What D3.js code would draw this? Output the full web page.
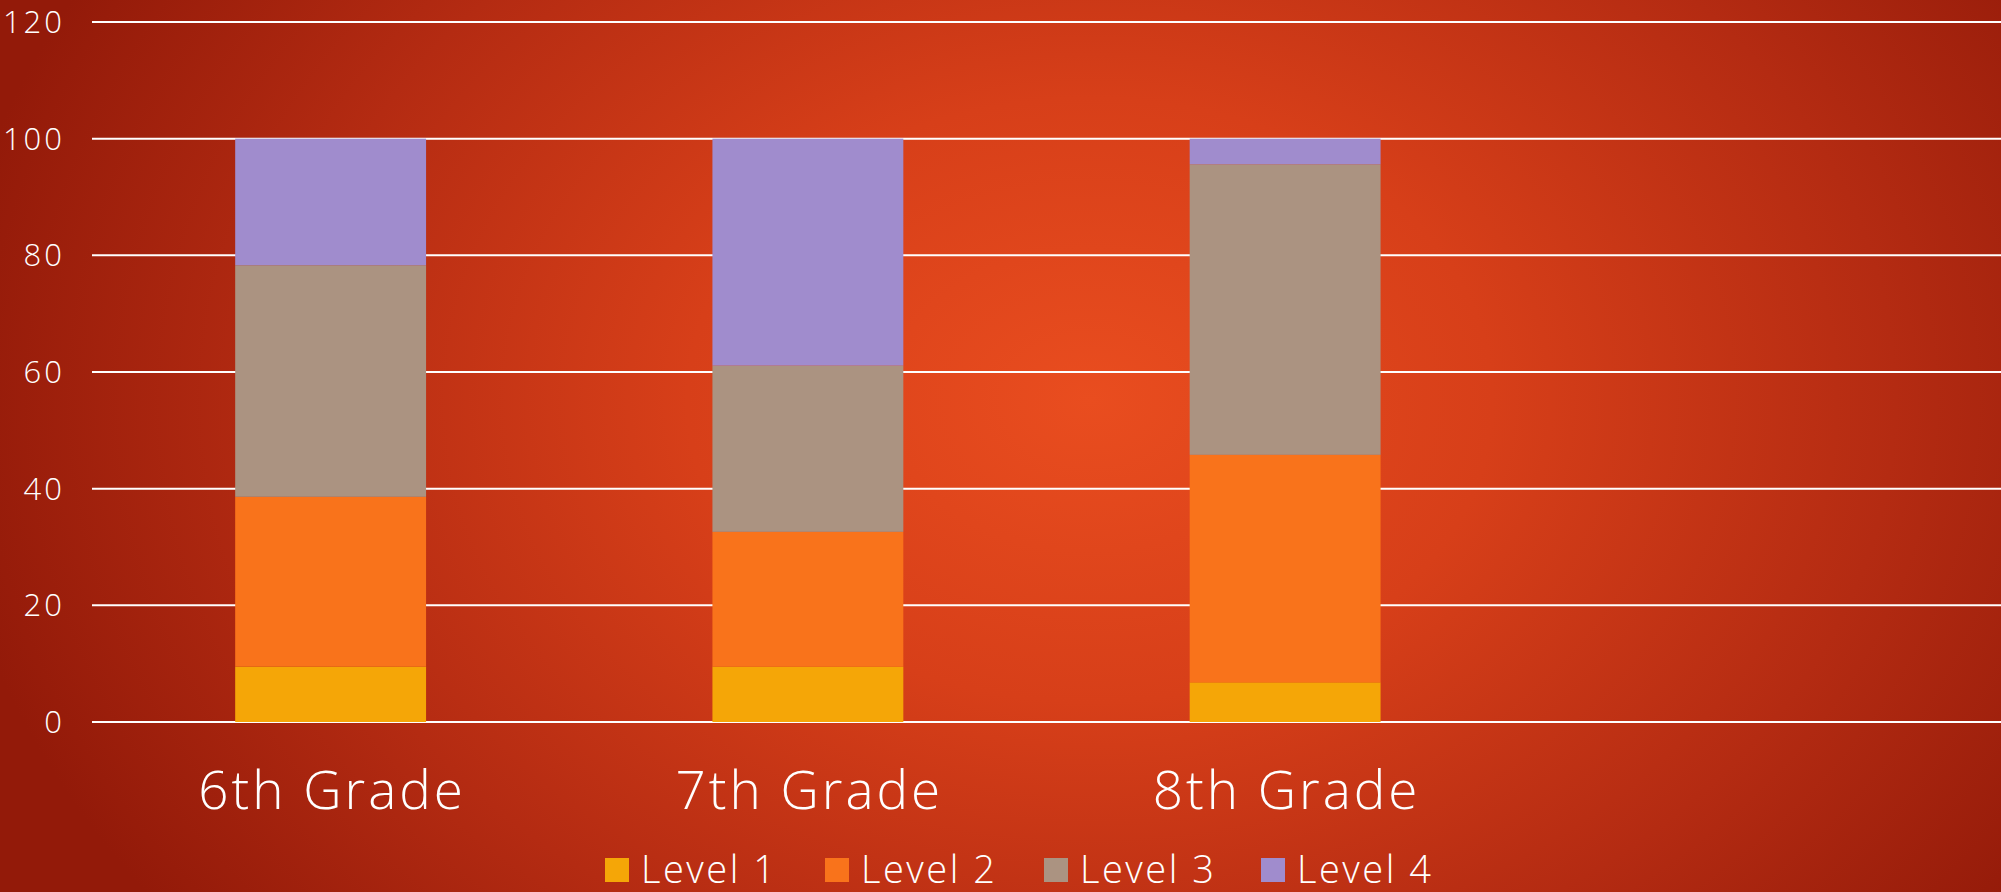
<!DOCTYPE html>
<html>
<head>
<meta charset="utf-8">
<script src="https://cdn.jsdelivr.net/npm/d3@7"></script>
<style>
  html, body { margin: 0; padding: 0; overflow: hidden; }
  svg { display: block; }
</style>
</head>
<body>
<svg id="chart" width="2001" height="892"></svg>
<script>
// data
const grades = ['6th Grade', '7th Grade', '8th Grade', ''];
const levels = ['Level 1', 'Level 2', 'Level 3', 'Level 4'];
const level1 = [9.5, 9.5, 6.8, 0];
const level2 = [29.1, 23.1, 39.0, 0];
const level3 = [39.7, 28.5, 49.8, 0];
const level4 = [21.7, 38.9, 4.4, 0];
const yTicks = [0, 20, 40, 60, 80, 100, 120];
const levelColors = ['#F5A607', '#F9731B', '#AB9381', '#A08CCD'];

const width = 2001, height = 892;
const svg = d3.select('#chart');
const font = '"Open Sans", "DejaVu Sans", sans-serif';

// background
let defs = svg.append('defs');
let grad = defs.append('radialGradient')
    .attr('id', 'bg').attr('gradientUnits', 'userSpaceOnUse')
    .attr('cx', 1090).attr('cy', 400).attr('r', 1150)
    .attr('gradientTransform', 'translate(1090,400) scale(1,0.75) translate(-1090,-400)');
grad.append('stop').attr('offset', 0).attr('stop-color', '#E94D1F');
grad.append('stop').attr('offset', 0.35).attr('stop-color', '#D73F19');
grad.append('stop').attr('offset', 0.7).attr('stop-color', '#B42B12');
grad.append('stop').attr('offset', 1).attr('stop-color', '#931A09');
svg.append('rect').attr('width', width).attr('height', height).attr('fill', 'url(#bg)');

let rows = grades.map(function(g, i){
    return {grade: g, 'Level 1': level1[i], 'Level 2': level2[i], 'Level 3': level3[i], 'Level 4': level4[i]};
});

let x = d3.scaleBand().domain(grades).range([92, 2001]).paddingInner(0.6).paddingOuter(0.3);
let y = d3.scaleLinear().domain([0, 120]).range([722, 22]);

// gridlines
svg.append('g').selectAll('line')
    .data(yTicks)
    .enter().append('line')
    .attr('x1', 92).attr('x2', width)
    .attr('y1', function(d){return y(d)}).attr('y2', function(d){return y(d)})
    .style('stroke', '#FFFFFF').style('stroke-width', 2);

// y labels
svg.append('g').selectAll('text')
    .data(yTicks)
    .enter().append('text')
    .attr('x', 65).attr('y', function(d){return y(d)})
    .attr('dy', '0.36em')
    .attr('text-anchor', 'end')
    .style('font-family', font).style('font-size', '31px').style('font-weight', 300)
    .style('letter-spacing', '3px')
    .style('fill', '#FFFFFF')
    .text(function(d){return d});

// stacked bars
let stack = d3.stack().keys(levels);
let series = stack(rows);
svg.append('g').selectAll('g')
    .data(series)
    .enter().append('g')
    .style('fill', function(d, i){return levelColors[i]})
    .selectAll('rect')
    .data(function(d){return d})
    .enter().append('rect')
    .attr('x', function(d){return x(d.data.grade)})
    .attr('width', x.bandwidth())
    .attr('y', function(d){return y(d[1])})
    .attr('height', function(d){return y(d[0]) - y(d[1])});

// category labels
svg.append('g').selectAll('text')
    .data(grades)
    .enter().append('text')
    .attr('x', function(d){return x(d) + x.bandwidth() / 2 + 1.5})
    .attr('y', 809)
    .attr('text-anchor', 'middle')
    .style('font-family', font).style('font-size', '53px').style('font-weight', 300)
    .style('letter-spacing', '3px')
    .style('fill', '#FFFFFF')
    .text(function(d){return d});

// legend
let legendX = [605, 825, 1044, 1261];
let legend = svg.append('g').selectAll('g')
    .data(levels)
    .enter().append('g')
    .attr('transform', function(d, i){return 'translate(' + legendX[i] + ',0)'});
legend.append('rect')
    .attr('x', 0).attr('y', 858).attr('width', 24).attr('height', 24)
    .style('fill', function(d, i){return levelColors[i]});
legend.append('text')
    .attr('x', 36).attr('y', 883)
    .style('font-family', font).style('font-size', '38px').style('font-weight', 300)
    .style('letter-spacing', '2.5px')
    .style('fill', '#FFFFFF')
    .text(function(d){return d});
</script>
</body>
</html>
